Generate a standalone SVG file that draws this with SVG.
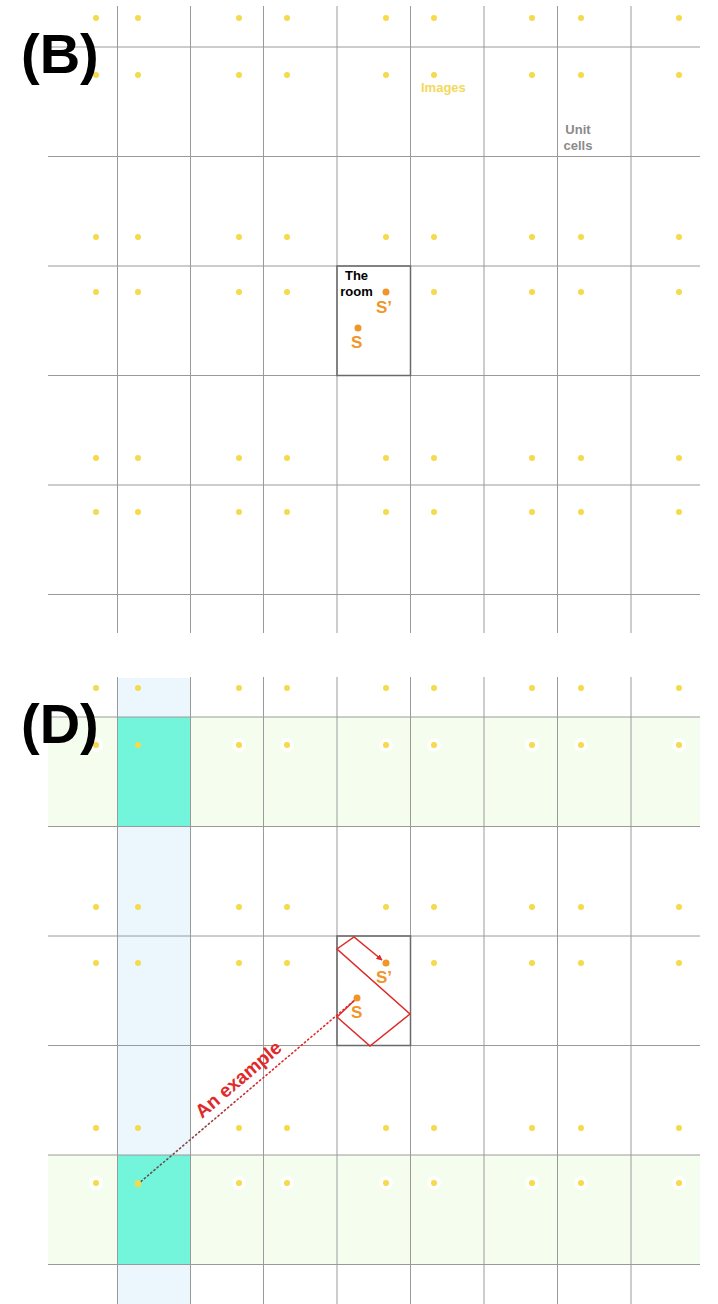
<svg xmlns="http://www.w3.org/2000/svg" width="718" height="1304" viewBox="0 0 718 1304">
<defs>
<style>
text{font-family:"Liberation Sans",Arial,sans-serif}
.grid line{stroke:#9a9a9a;stroke-width:1}
.room{fill:none;stroke:#6a6a6a;stroke-width:1.5}
.img{fill:#f4da4c}
.halo{fill:#fff;opacity:.85}
.src{fill:#f0952a}
.stxt{fill:#f0952a;font-size:17px;font-weight:bold}
.panel{font-size:56px;font-weight:bold;fill:#000}
.lbl{font-size:13px;font-weight:bold}
</style>
<marker id="ah" viewBox="0 0 10 10" refX="9" refY="5" markerWidth="6" markerHeight="6" orient="auto" markerUnits="userSpaceOnUse">
<path d="M0,0 L10,5 L0,10 z" fill="#e02a2a"/>
</marker>
<linearGradient id="dg" gradientUnits="userSpaceOnUse" x1="138" y1="1184" x2="357" y2="998">
<stop offset="0" stop-color="#555"/>
<stop offset="0.35" stop-color="#a03838"/>
<stop offset="0.6" stop-color="#e02a2a"/>
<stop offset="1" stop-color="#e02a2a"/>
</linearGradient>
<g id="dotsrow">
<circle class="img" cx="96" cy="0" r="3"/><circle class="img" cx="138" cy="0" r="3"/>
<circle class="img" cx="239" cy="0" r="3"/><circle class="img" cx="287" cy="0" r="3"/>
<circle class="img" cx="386" cy="0" r="3"/><circle class="img" cx="434" cy="0" r="3"/>
<circle class="img" cx="532" cy="0" r="3"/><circle class="img" cx="581" cy="0" r="3"/>
<circle class="img" cx="679" cy="0" r="3"/>
</g>
<g id="halorow">
<circle class="halo" cx="96" cy="0" r="7"/><circle class="halo" cx="239" cy="0" r="7"/><circle class="halo" cx="287" cy="0" r="7"/>
<circle class="halo" cx="386" cy="0" r="7"/><circle class="halo" cx="434" cy="0" r="7"/>
<circle class="halo" cx="532" cy="0" r="7"/><circle class="halo" cx="581" cy="0" r="7"/>
<circle class="halo" cx="679" cy="0" r="7"/>
</g>
</defs>
<rect width="718" height="1304" fill="#fff"/>

<!-- Panel B -->
<g id="panelB">
<g id="gridB" class="grid">
<line x1="48" y1="47" x2="700" y2="47"/><line x1="48" y1="156.5" x2="700" y2="156.5"/>
<line x1="48" y1="266" x2="700" y2="266"/><line x1="48" y1="375.5" x2="700" y2="375.5"/>
<line x1="48" y1="485" x2="700" y2="485"/><line x1="48" y1="594.5" x2="700" y2="594.5"/>
<line x1="117.5" y1="6" x2="117.5" y2="633"/><line x1="190.5" y1="6" x2="190.5" y2="633"/>
<line x1="263.5" y1="6" x2="263.5" y2="633"/><line x1="337" y1="6" x2="337" y2="633"/>
<line x1="410.5" y1="6" x2="410.5" y2="633"/><line x1="484" y1="6" x2="484" y2="633"/>
<line x1="557.5" y1="6" x2="557.5" y2="633"/><line x1="631" y1="6" x2="631" y2="633"/>
</g>
<g id="imagesB">
<use href="#dotsrow" y="18"/><use href="#dotsrow" y="75"/><use href="#dotsrow" y="237"/>
<use href="#dotsrow" y="458"/><use href="#dotsrow" y="512"/>
<circle class="img" cx="96" cy="292" r="3"/><circle class="img" cx="138" cy="292" r="3"/>
<circle class="img" cx="239" cy="292" r="3"/><circle class="img" cx="287" cy="292" r="3"/>
<circle class="img" cx="434" cy="292" r="3"/>
<circle class="img" cx="532" cy="292" r="3"/><circle class="img" cx="581" cy="292" r="3"/>
<circle class="img" cx="679" cy="292" r="3"/>
</g>
<g id="roomB">
<rect class="room" x="337" y="266" width="73.5" height="109.5"/>
<text class="lbl" x="356.5" y="280" text-anchor="middle" fill="#000">The</text>
<text class="lbl" x="356.5" y="296" text-anchor="middle" fill="#000">room</text>
<circle class="src" cx="386" cy="292" r="3.5"/>
<circle class="src" cx="358" cy="328" r="3.5"/>
<text class="stxt" x="376" y="313">S’</text>
<text class="stxt" x="351" y="348">S</text>
</g>
<text id="labelImages" class="lbl" x="421" y="92" fill="#f2d95a">Images</text>
<g id="labelUnitCells">
<text class="lbl" x="578" y="134" text-anchor="middle" fill="#8a8a8a">Unit</text>
<text class="lbl" x="578" y="150" text-anchor="middle" fill="#8a8a8a">cells</text>
</g>
<text id="labelB" class="panel" x="21" y="73">(B)</text>
</g>

<!-- Panel D -->
<g id="panelD">
<g id="shadingD">
<rect x="117.5" y="678" width="73" height="626" fill="#ebf7fd"/>
<rect x="48" y="717" width="652" height="109.5" fill="#f4fdee"/>
<rect x="48" y="1155" width="652" height="109.5" fill="#f4fdee"/>
<rect x="117.5" y="717" width="73" height="109.5" fill="#72f5da"/>
<rect x="117.5" y="1155" width="73" height="109.5" fill="#72f5da"/>
</g>
<g id="halosD">
<use href="#halorow" y="745"/><use href="#halorow" y="1183"/>
</g>
<g id="gridD" class="grid">
<line x1="48" y1="717" x2="700" y2="717"/><line x1="48" y1="826.5" x2="700" y2="826.5"/>
<line x1="48" y1="936" x2="700" y2="936"/><line x1="48" y1="1045.5" x2="700" y2="1045.5"/>
<line x1="48" y1="1155" x2="700" y2="1155"/><line x1="48" y1="1264.5" x2="700" y2="1264.5"/>
<line x1="117.5" y1="677" x2="117.5" y2="1304"/><line x1="190.5" y1="677" x2="190.5" y2="1304"/>
<line x1="263.5" y1="677" x2="263.5" y2="1304"/><line x1="337" y1="677" x2="337" y2="1304"/>
<line x1="410.5" y1="677" x2="410.5" y2="1304"/><line x1="484" y1="677" x2="484" y2="1304"/>
<line x1="557.5" y1="677" x2="557.5" y2="1304"/><line x1="631" y1="677" x2="631" y2="1304"/>
</g>
<g id="imagesD">
<use href="#dotsrow" y="688"/><use href="#dotsrow" y="745"/><use href="#dotsrow" y="907"/>
<use href="#dotsrow" y="1128"/><use href="#dotsrow" y="1183"/>
<circle class="img" cx="96" cy="963" r="3"/><circle class="img" cx="138" cy="963" r="3"/>
<circle class="img" cx="239" cy="963" r="3"/><circle class="img" cx="287" cy="963" r="3"/>
<circle class="img" cx="434" cy="963" r="3"/>
<circle class="img" cx="532" cy="963" r="3"/><circle class="img" cx="581" cy="963" r="3"/>
<circle class="img" cx="679" cy="963" r="3"/>
</g>
<g id="roomD">
<rect class="room" x="337" y="936" width="73.5" height="109.5"/>
</g>
<text id="labelD" class="panel" x="21" y="743">(D)</text>
</g>

<g id="connectors">
<path d="M356,999 L337,1017 L370,1046 L410,1014 L337,949 L354,937 L382,960" fill="none" stroke="#e02a2a" stroke-width="1.5" stroke-linejoin="miter" marker-end="url(#ah)"/>
<line x1="138" y1="1184" x2="356" y2="999" stroke="url(#dg)" stroke-width="1.6" stroke-dasharray="1.2 3" stroke-linecap="round"/>
</g>

<g id="sourcesD">
<circle class="src" cx="386" cy="963" r="3.5"/>
<circle class="src" cx="357" cy="998" r="3.5"/>
<text class="stxt" x="376" y="983">S’</text>
<text class="stxt" x="351" y="1018">S</text>
</g>
<circle class="img" cx="138" cy="1184" r="3.2" fill="#f2cf4a"/>
<text id="labelExample" x="0" y="0" font-size="19" font-weight="bold" fill="#e02a2a" transform="translate(202,1119) rotate(-40.5)">An example</text>
</svg>
